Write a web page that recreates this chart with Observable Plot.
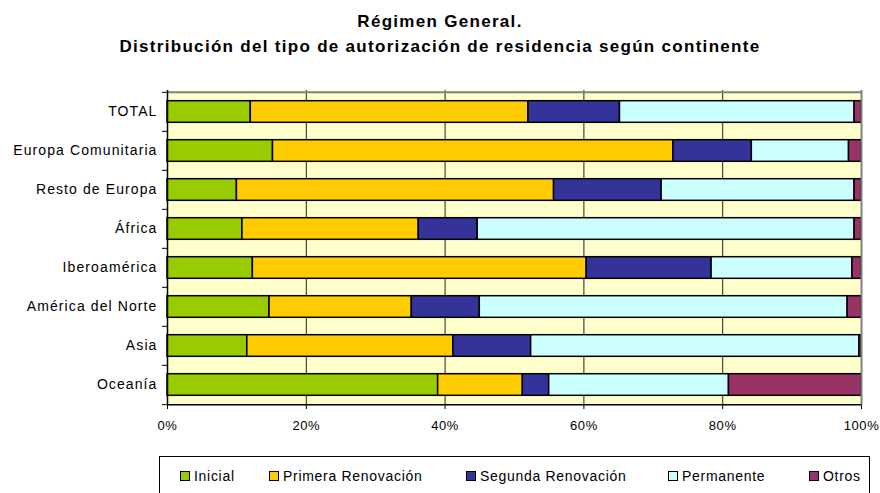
<!DOCTYPE html>
<html><head><meta charset="utf-8">
<script src="https://cdn.jsdelivr.net/npm/d3@7"></script>
<script src="https://cdn.jsdelivr.net/npm/@observablehq/plot@0.6"></script>
<style>
body{margin:0;background:#fff;font-family:"Liberation Sans",Arial,sans-serif;color:#000;}
#wrap{position:relative;width:880px;height:493px;overflow:hidden;background:#fff;}
.title{position:absolute;left:0;width:880px;text-align:center;font-weight:bold;font-size:17px;letter-spacing:1.3px;line-height:20px;white-space:nowrap;}
#chart{position:absolute;left:0;top:80px;}
#chart g[aria-label="y-axis tick label"] text{letter-spacing:1.1px;}
#chart g[aria-label="x-axis tick label"] text{letter-spacing:0.6px;}
#legend{position:absolute;left:159px;top:456px;width:711px;height:42px;border:1px solid #000;box-sizing:border-box;}
.item{position:absolute;top:9px;height:20px;line-height:20px;font-size:14px;letter-spacing:0.7px;white-space:nowrap;}
.sw{position:absolute;left:0;top:5px;width:10px;height:10px;border:1px solid #000;box-sizing:border-box;}
.lbl{position:absolute;left:14px;top:0;}
</style>
</head><body>
<div id="wrap">
  <div class="title" id="t1" style="top:12px"></div>
  <div class="title" id="t2" style="top:37px"></div>
  <div id="chart"></div>
  <div id="legend"></div>
</div>
<script>
const titleLines = ["Régimen General.", "Distribución del tipo de autorización de residencia según continente"];
const categories = ["TOTAL","Europa Comunitaria","Resto de Europa","África","Iberoamérica","América del Norte","Asia","Oceanía"];
const series = ["Inicial","Primera Renovación","Segunda Renovación","Permanente","Otros"];
const colors = ["#99CC00","#FFCC00","#333399","#CCFFFF","#993366"];
const inicial    = [12.0, 15.2, 10.0, 10.8, 12.3, 14.7, 11.5, 39.0];
const primera    = [40.0, 57.7, 45.7, 25.4, 48.1, 20.5, 29.7, 12.2];
const segunda    = [13.2, 11.3, 15.5,  8.5, 18.0,  9.8, 11.2,  3.8];
const permanente = [33.8, 14.0, 27.8, 54.3, 20.3, 53.0, 47.3, 25.9];
const otros      = [ 1.0,  1.8,  1.0,  1.0,  1.3,  2.0,  0.3, 19.1];
const xTicks = [0, 20, 40, 60, 80, 100];
const gridTicks = [20, 40, 60, 80];

document.getElementById("t1").textContent = titleLines[0];
document.getElementById("t2").textContent = titleLines[1];

const seriesValues = [inicial, primera, segunda, permanente, otros];
const table = [];
categories.forEach((c, i) => series.forEach((s, j) => table.push({cat: c, series: s, value: seriesValues[j][i]})));

const W = 880, H = 360, mT = 10, mB = 35, mL = 167, mR = 19;
const bw = (H - mT - mB) / categories.length;

const chart = Plot.plot({
  width: W, height: H,
  marginTop: mT, marginBottom: mB, marginLeft: mL, marginRight: mR,
  style: {fontFamily: '"Liberation Sans", Arial, sans-serif', fontSize: "14px", color: "#000", background: "transparent", overflow: "visible"},
  x: {domain: [0, 100]},
  y: {domain: categories, padding: 0},
  color: {domain: series, range: colors},
  marks: [
    Plot.frame({fill: "#FFFFCC", stroke: null}),
    Plot.ruleX(gridTicks, {stroke: "#222", strokeWidth: 1}),
    Plot.barX(table, Plot.stackX({y: "cat", x: "value", fill: "series", order: series, stroke: "#000", strokeWidth: 1.5, insetTop: 8.7, insetBottom: 8.7})),
    Plot.ruleX([100], {stroke: "#808080", strokeWidth: 2}),
    Plot.ruleY([categories[0]], {dy: -bw / 2, stroke: "#808080", strokeWidth: 2}),
    Plot.ruleX([0], {stroke: "#000", strokeWidth: 1.5}),
    Plot.ruleY([categories[categories.length - 1]], {dy: bw / 2, stroke: "#000", strokeWidth: 1.5}),
    Plot.ruleY(categories, {x1: 0, x2: 0, insetLeft: -5, dy: -bw / 2, stroke: "#000"}),
    Plot.ruleY([categories[categories.length - 1]], {x1: 0, x2: 0, insetLeft: -5, dy: bw / 2, stroke: "#000"}),
    Plot.axisY({tickSize: 0, tickPadding: 10, fontSize: 14, label: null}),
    Plot.axisX({ticks: xTicks, tickSize: 4, tickPadding: 11, fontSize: 13, tickFormat: d => d + "%", label: null})
  ]
});
document.getElementById("chart").appendChild(chart);

const legendX = [20, 109, 306, 508, 649];
const legend = document.getElementById("legend");
series.forEach((s, j) => {
  const it = document.createElement("div");
  it.className = "item";
  it.style.left = legendX[j] + "px";
  const sw = document.createElement("div");
  sw.className = "sw";
  sw.style.background = colors[j];
  const lb = document.createElement("span");
  lb.className = "lbl";
  lb.textContent = s;
  it.appendChild(sw); it.appendChild(lb);
  legend.appendChild(it);
});
</script>
</body></html>
